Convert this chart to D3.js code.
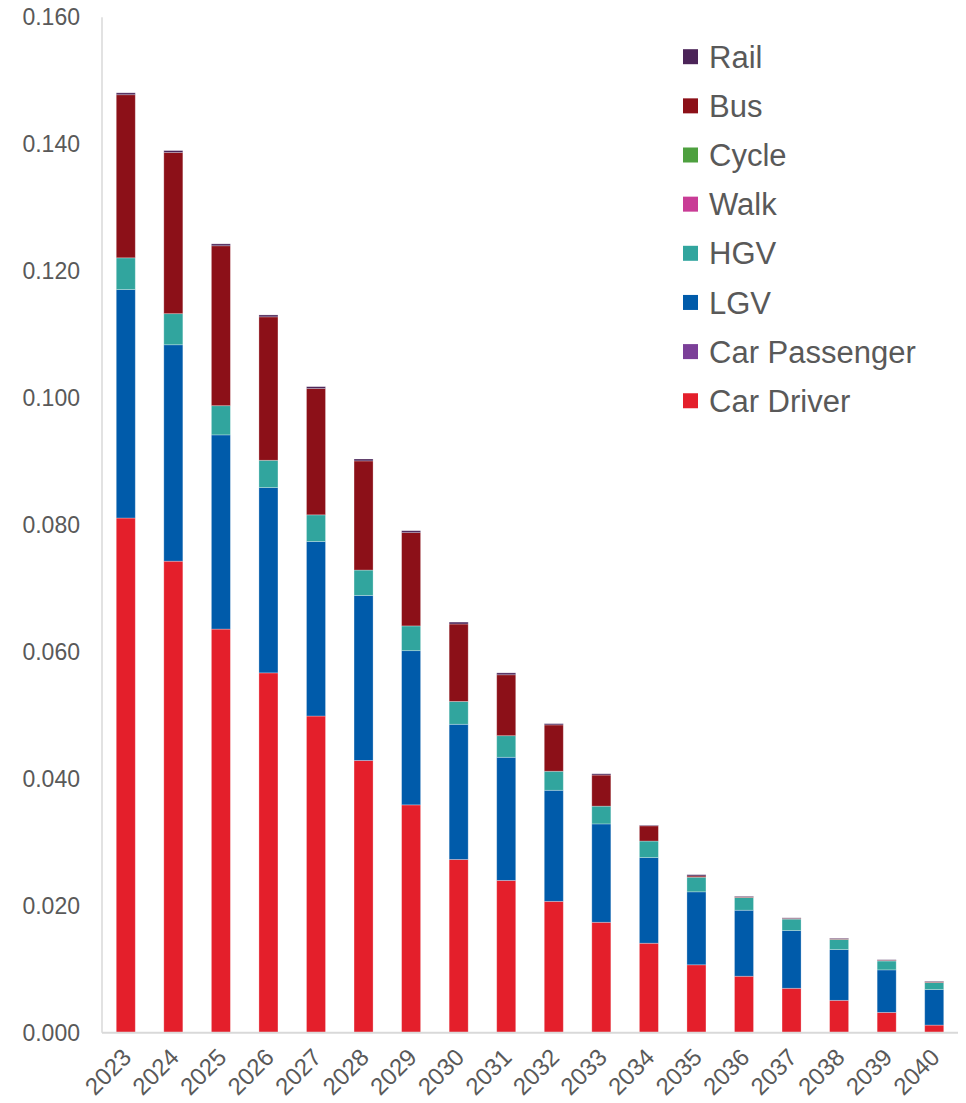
<!DOCTYPE html>
<html>
<head>
<meta charset="utf-8">
<script src="https://cdn.jsdelivr.net/npm/d3@7"></script>
<style>
  body { margin: 0; background: #fff; }
  text { font-family: "Liberation Sans", Arial, sans-serif; fill: #595959; }
</style>
</head>
<body>
<script>
// data
var years = ["2023","2024","2025","2026","2027","2028","2029","2030","2031",
             "2032","2033","2034","2035","2036","2037","2038","2039","2040"];

var carDriver    = [0.0811,0.0743,0.0636,0.0567,0.0499,0.0429,0.0359,0.0273,0.0240,0.0207,0.0174,0.0141,0.0107,0.0089,0.0070,0.0051,0.0032,0.0012];
var carPassenger = [0,0,0,0,0,0,0,0,0,0,0,0,0,0,0,0,0,0];
var lgv          = [0.0360,0.0341,0.0306,0.0292,0.0275,0.0260,0.0243,0.0213,0.0194,0.0175,0.0155,0.0135,0.0115,0.0104,0.0091,0.0080,0.0067,0.0056];
var hgv          = [0.0050,0.0049,0.0046,0.0043,0.0042,0.0040,0.0039,0.0036,0.0034,0.0030,0.0028,0.0026,0.0023,0.0020,0.0018,0.0016,0.0014,0.0011];
var walk         = [0,0,0,0,0,0,0,0,0,0,0,0,0,0,0,0,0,0];
var cycle        = [0,0,0,0,0,0,0,0,0,0,0,0,0,0,0,0,0,0];
var bus          = [0.0257,0.0254,0.0252,0.0226,0.0199,0.0172,0.0147,0.0122,0.0096,0.0073,0.0049,0.0024,0.0002,0.0001,0.0001,0.0001,0.0001,0.0001];
var rail         = [0.0003,0.0003,0.0003,0.0003,0.0003,0.0003,0.0003,0.0003,0.0003,0.0002,0.0002,0.0001,0.0002,0.0001,0.0001,0.0001,0.0001,0.0001];

var yTicks = [0, 0.02, 0.04, 0.06, 0.08, 0.10, 0.12, 0.14, 0.16];

// bottom to top
var series = [
  {name: "Car Driver",    values: carDriver,    color: "#e41f2b"},
  {name: "Car Passenger", values: carPassenger, color: "#7b3f98"},
  {name: "LGV",           values: lgv,          color: "#005baa"},
  {name: "HGV",           values: hgv,          color: "#31a59e"},
  {name: "Walk",          values: walk,         color: "#c93c96"},
  {name: "Cycle",         values: cycle,        color: "#4ea03f"},
  {name: "Bus",           values: bus,          color: "#8c1018"},
  {name: "Rail",          values: rail,         color: "#4b2458"}
];

var W = 966, H = 1103;
var plotLeft = 102, plotRight = 958, plotTop = 17.3, plotBottom = 1032.7;

var rows = years.map(function(y, i) {
  var r = {year: y};
  series.forEach(function(s) { r[s.name] = s.values[i]; });
  return r;
});

var stack = d3.stack().keys(series.map(function(s) { return s.name; }));
var layers = stack(rows);

var x = d3.scaleBand()
  .domain(years)
  .range([plotLeft, plotRight])
  .paddingInner(0.6)
  .paddingOuter(0.3);

var y = d3.scaleLinear()
  .domain([0, 0.16])
  .range([plotBottom, plotTop]);

var color = d3.scaleOrdinal()
  .domain(series.map(function(s) { return s.name; }))
  .range(series.map(function(s) { return s.color; }));

var svg = d3.select("body").append("svg")
  .attr("width", W)
  .attr("height", H);

// bars
svg.append("g").selectAll("g")
  .data(layers)
  .enter().append("g")
    .attr("fill", function(d) { return color(d.key); })
  .selectAll("rect")
  .data(function(d) { return d; })
  .enter().append("rect")
    .attr("x", function(d) { return x(d.data.year); })
    .attr("width", x.bandwidth())
    .attr("y", function(d) { return y(d[1]); })
    .attr("height", function(d) { return Math.max(0, y(d[0]) - y(d[1])); })
    .attr("stroke", "#fff")
    .attr("stroke-opacity", function(d) { return (d[1] - d[0]) > 0 ? 0.35 : 0; })
    .attr("stroke-width", 0.8);

// y axis
var yAxis = svg.append("g")
  .attr("transform", "translate(" + plotLeft + ",0)")
  .call(d3.axisLeft(y).tickValues(yTicks).tickFormat(d3.format(".3f")).tickSize(0).tickPadding(22));
yAxis.select(".domain").remove();
yAxis.selectAll("text").style("font-size", "23px").attr("fill", "#595959");

svg.append("line")
  .attr("x1", plotLeft).attr("x2", plotLeft)
  .attr("y1", plotTop).attr("y2", plotBottom)
  .attr("stroke", "#d9d9d9").attr("stroke-width", 1.5);

// x axis
svg.append("line")
  .attr("x1", plotLeft).attr("x2", plotRight)
  .attr("y1", plotBottom).attr("y2", plotBottom)
  .attr("stroke", "#d9d9d9").attr("stroke-width", 2);

svg.append("g").selectAll("text")
  .data(years)
  .enter().append("text")
    .attr("transform", function(d) {
      return "translate(" + (x(d) + x.bandwidth() / 2 + 7) + "," + (plotBottom + 26) + ") rotate(-45)";
    })
    .attr("text-anchor", "end")
    .style("font-size", "24px")
    .text(function(d) { return d; });

// legend, Rail on top
var legend = svg.append("g").selectAll("g")
  .data(series.slice().reverse())
  .enter().append("g")
    .attr("transform", function(d, i) { return "translate(683," + (56.7 + i * 49.15) + ")"; });

legend.append("rect")
  .attr("x", 0).attr("y", -7.5)
  .attr("width", 15).attr("height", 15)
  .attr("fill", function(d) { return d.color; });

legend.append("text")
  .attr("x", 26)
  .attr("dy", "0.36em")
  .style("font-size", "31px")
  .text(function(d) { return d.name; });
</script>
</body>
</html>
